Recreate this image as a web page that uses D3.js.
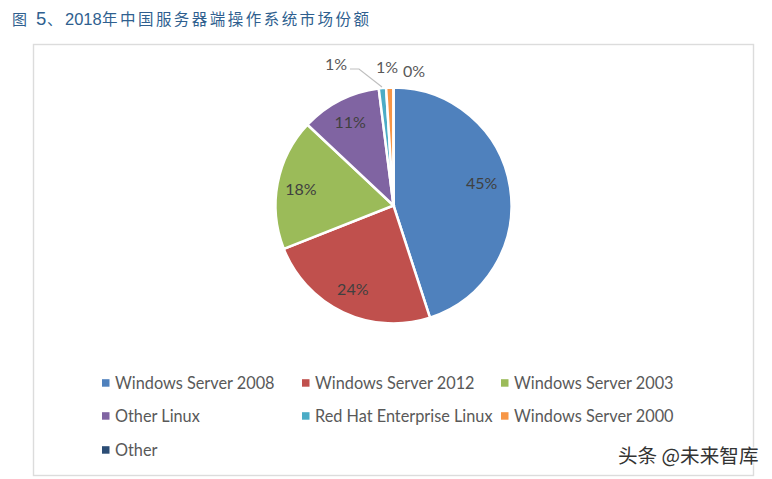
<!DOCTYPE html>
<html>
<head>
<meta charset="utf-8">
<script src="https://cdn.jsdelivr.net/npm/d3@7"></script>
<style>
  html, body { margin: 0; padding: 0; background: #fff; }
  svg { display: block; }
  text { font-family: Lato, "Open Sans", sans-serif; }
</style>
</head>
<body>
<svg id="chart" width="772" height="479"></svg>
<script>
const categories = ['Windows Server 2008', 'Windows Server 2012', 'Windows Server 2003',
  'Other Linux', 'Red Hat Enterprise Linux', 'Windows Server 2000', 'Other'];
const shares = [45, 24, 18, 11, 1, 1, 0];
const colors = ['#4f81bd', '#c0504d', '#9bbb59', '#8064a2', '#4bacc6', '#f79646', '#2c4d75'];
const watermark = '头条 @未来智库';

const svg = d3.select('#chart');
const cjk = '"Noto Sans CJK SC", sans-serif';
const latin = '"Liberation Sans", sans-serif';
const titleColor = '#2f5f8f';

// title is set in pieces, the number parts are latin and wider than the cjk run
const titleParts = [
  { t: '图', x: 12, size: 15, font: cjk },
  { t: '5', x: 36, size: 18.5, font: latin },
  { t: '、', x: 47, size: 15, font: cjk },
  { t: '2018', x: 65, size: 16.5, font: latin }
];
svg.selectAll('text.title')
  .data(titleParts)
  .enter()
  .append('text')
  .attr('class', 'title')
  .attr('x', d => d.x).attr('y', 25)
  .attr('font-size', d => d.size)
  .attr('fill', titleColor)
  .style('font-family', d => d.font)
  .text(d => d.t);

svg.append('text')
  .attr('x', 102).attr('y', 25)
  .attr('font-size', 15.5)
  .attr('fill', titleColor)
  .attr('textLength', 267)
  .style('font-family', cjk)
  .text('年中国服务器端操作系统市场份额');

// chart frame
svg.append('rect')
  .attr('x', 33.5).attr('y', 44.5)
  .attr('width', 720).attr('height', 431)
  .attr('fill', '#fff')
  .attr('stroke', '#dcdcdc')
  .attr('stroke-width', 1.4);

const cx = 393.5, cy = 205.5, radius = 118;
const pie = d3.pie().sort(null).value(d => d)(shares);
const arc = d3.arc().innerRadius(0).outerRadius(radius);

const g = svg.append('g').attr('transform', `translate(${cx},${cy})`);

g.selectAll('path')
  .data(pie)
  .enter()
  .append('path')
  .attr('d', arc)
  .attr('fill', (d, i) => colors[i])
  .attr('stroke', '#fff')
  .attr('stroke-width', 2.5);

// labels inside sit at 80% of the radius, the small slices go outside
const labelArc = d3.arc().innerRadius(radius * 0.79).outerRadius(radius * 0.79);
const outside = [
  null, null, null, null,
  { x: 336, y: 69.5 }, { x: 387, y: 72.5 }, { x: 414, y: 76.5 }
];
const nudgeX = [-4, -1, -1, -1, 0, 0, 0];
const nudgeY = [-7, 0, 1, 0, 0, 0, 0];

svg.selectAll('text.pct')
  .data(pie)
  .enter()
  .append('text')
  .attr('class', 'pct')
  .attr('text-anchor', 'middle')
  .attr('font-size', 16)
  .attr('fill', (d, i) => outside[i] ? '#595959' : '#404040')
  .attr('x', (d, i) => outside[i] ? outside[i].x : cx + labelArc.centroid(d)[0] + nudgeX[i])
  .attr('y', (d, i) => outside[i] ? outside[i].y : cy + labelArc.centroid(d)[1] + 5.5 + nudgeY[i])
  .text(d => d.data + '%');

// leader line for the Red Hat slice
svg.append('path')
  .attr('d', d3.line()([[350, 69], [359, 69], [382, 87]]))
  .attr('fill', 'none')
  .attr('stroke', '#bfbfbf')
  .attr('stroke-width', 1.2);

// legend, three per row
const legendX = d3.scaleOrdinal().domain([0, 1, 2]).range([102, 302, 501]);
const legendY = d3.scaleOrdinal().domain([0, 1, 2]).range([383, 416, 450]);

const legend = svg.selectAll('g.legend')
  .data(categories)
  .enter()
  .append('g')
  .attr('class', 'legend')
  .attr('transform', (d, i) => `translate(${legendX(i % 3)},${legendY(Math.floor(i / 3))})`);

legend.append('rect')
  .attr('x', 0).attr('y', -3.8)
  .attr('width', 7.5).attr('height', 7.5)
  .attr('fill', (d, i) => colors[i]);

legend.append('text')
  .attr('x', 13).attr('y', 5.5)
  .attr('font-size', 16.3)
  .attr('fill', '#595959')
  .text(d => d);

svg.append('text')
  .attr('x', 618).attr('y', 463)
  .attr('font-size', 19.6)
  .attr('fill', '#333')
  .attr('stroke', '#fff')
  .attr('stroke-width', 2)
  .attr('paint-order', 'stroke')
  .style('font-family', cjk)
  .text(watermark);
</script>
</body>
</html>
